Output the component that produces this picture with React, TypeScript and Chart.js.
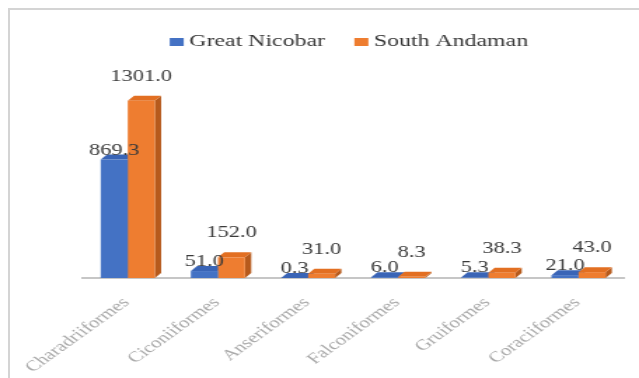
import React, { useEffect, useRef } from "react";
import { Chart, registerables } from "chart.js";

Chart.register(...registerables);

// Bird orders and counts per island
const categories = [
  "Charadriiformes",
  "Ciconiiformes",
  "Anseriformes",
  "Falconiformes",
  "Gruiformes",
  "Coraciiformes",
];
const greatNicobar = [869.3, 51.0, 0.3, 6.0, 5.3, 21.0];
const southAndaman = [1301.0, 152.0, 31.0, 8.3, 38.3, 43.0];
const seriesNames = ["Great Nicobar", "South Andaman"];
const yMax = 1600;

// The chart is drawn on a narrower canvas and widened horizontally.
const CANVAS_W = 456;
const CANVAS_H = 378;
const STRETCH = 639 / CANVAS_W;
const SERIF = '"Liberation Serif", "Times New Roman", serif';

const palette = [
  { front: "#4472c4", top: "#3964b6", side: "#2d5193" },
  { front: "#ee7d30", top: "#e26f22", side: "#b65a1c" },
];

const DEPTH_X = 4.5;
const DEPTH_Y = 5;
const LABEL_LIFT = [9, 24];

// Side and top faces give the columns a block look.
const bar3d = {
  id: "bar3d",
  beforeDatasetsDraw(chart: any) {
    const ctx = chart.ctx;
    chart.data.datasets.forEach((_ds: any, di: number) => {
      const meta = chart.getDatasetMeta(di);
      const c = palette[di];
      meta.data.forEach((el: any) => {
        const { x, y, base, width } = el.getProps(["x", "y", "base", "width"], true);
        const l = x - width / 2;
        const r = x + width / 2;
        ctx.save();
        ctx.fillStyle = c.side;
        ctx.beginPath();
        ctx.moveTo(r, y);
        ctx.lineTo(r + DEPTH_X, y - DEPTH_Y);
        ctx.lineTo(r + DEPTH_X, base - DEPTH_Y);
        ctx.lineTo(r, base);
        ctx.closePath();
        ctx.fill();
        ctx.fillStyle = c.top;
        ctx.beginPath();
        ctx.moveTo(l, y);
        ctx.lineTo(l + DEPTH_X, y - DEPTH_Y);
        ctx.lineTo(r + DEPTH_X, y - DEPTH_Y);
        ctx.lineTo(r, y);
        ctx.closePath();
        ctx.fill();
        ctx.restore();
      });
    });
  },
};

// Value labels above each column.
const valueLabels = {
  id: "valueLabels",
  afterDatasetsDraw(chart: any) {
    const ctx = chart.ctx;
    ctx.save();
    ctx.font = `16px ${SERIF}`;
    ctx.fillStyle = "#3a3a3a";
    ctx.textAlign = "center";
    ctx.textBaseline = "middle";
    chart.data.datasets.forEach((ds: any, di: number) => {
      const meta = chart.getDatasetMeta(di);
      meta.data.forEach((el: any, i: number) => {
        const { x, y } = el.getProps(["x", "y"], true);
        ctx.fillText(Number(ds.data[i]).toFixed(1), x, y - LABEL_LIFT[di]);
      });
    });
    ctx.restore();
  },
};

// Legend row above the plot.
const topLegend = {
  id: "topLegend",
  afterDraw(chart: any) {
    const ctx = chart.ctx;
    const area = chart.chartArea;
    ctx.save();
    ctx.font = `17px ${SERIF}`;
    const box = 10;
    const gap = 4;
    const itemGap = 21;
    const items = chart.data.datasets.map((ds: any, di: number) => ({
      text: ds.label as string,
      color: palette[di].front,
      w: ctx.measureText(ds.label).width,
    }));
    const total =
      items.reduce((s: number, it: any) => s + box + gap + it.w, 0) +
      itemGap * (items.length - 1);
    let x = (area.left + area.right) / 2 - 3 - total / 2;
    const midY = 42;
    ctx.textBaseline = "middle";
    ctx.textAlign = "left";
    items.forEach((it: any) => {
      ctx.fillStyle = it.color;
      ctx.fillRect(x, midY - 4, box, 8);
      x += box + gap;
      ctx.fillStyle = "#363636";
      ctx.fillText(it.text, x, midY);
      x += it.w + itemGap;
    });
    ctx.restore();
  },
};

function BirdOrdersChart() {
  const canvasRef = useRef<HTMLCanvasElement | null>(null);

  useEffect(() => {
    if (!canvasRef.current) return;
    const chart = new Chart(canvasRef.current, {
      type: "bar",
      data: {
        labels: categories,
        datasets: [
          {
            label: seriesNames[0],
            data: greatNicobar,
            backgroundColor: palette[0].front,
            categoryPercentage: 0.6,
            barPercentage: 1,
          },
          {
            label: seriesNames[1],
            data: southAndaman,
            backgroundColor: palette[1].front,
            categoryPercentage: 0.6,
            barPercentage: 1,
          },
        ],
      },
      options: {
        responsive: false,
        animation: false,
        devicePixelRatio: 1,
        layout: { padding: { left: 59, right: 11, top: 60, bottom: 0 } },
        plugins: {
          legend: { display: false },
          tooltip: { enabled: false },
        },
        scales: {
          x: {
            grid: { display: false, drawTicks: false },
            border: { display: true, color: "#c6c6c6", width: 2 },
            ticks: {
              autoSkip: false,
              minRotation: 45,
              maxRotation: 45,
              padding: 16,
              labelOffset: -1,
              color: "#a8a8a8",
              font: { family: SERIF, size: 15 },
            },
            afterFit(scale: any) {
              scale.height = 100;
              scale.paddingLeft = 0;
              scale.paddingRight = 0;
            },
          },
          y: { display: false, min: 0, max: yMax },
        },
      },
      plugins: [bar3d, valueLabels, topLegend],
    });
    return () => chart.destroy();
  }, []);

  return (
    <div
      style={{
        position: "fixed",
        left: 0,
        top: 0,
        width: 639,
        height: 378,
        overflow: "hidden",
        background: "#ffffff",
      }}
    >
      <div
        style={{
          position: "absolute",
          left: 8,
          top: 8,
          right: 0,
          bottom: 0,
          borderTop: "2px solid #d4d4d4",
          borderLeft: "2px solid #d4d4d4",
        }}
      />
      <div
        style={{
          position: "absolute",
          left: 0,
          top: 0,
          transform: `scaleX(${STRETCH})`,
          transformOrigin: "0 0",
        }}
      >
        <canvas
          ref={canvasRef}
          width={CANVAS_W}
          height={CANVAS_H}
          style={{ display: "block", width: CANVAS_W, height: CANVAS_H }}
        />
      </div>
    </div>
  );
}

export default function App() {
  return <BirdOrdersChart />;
}
